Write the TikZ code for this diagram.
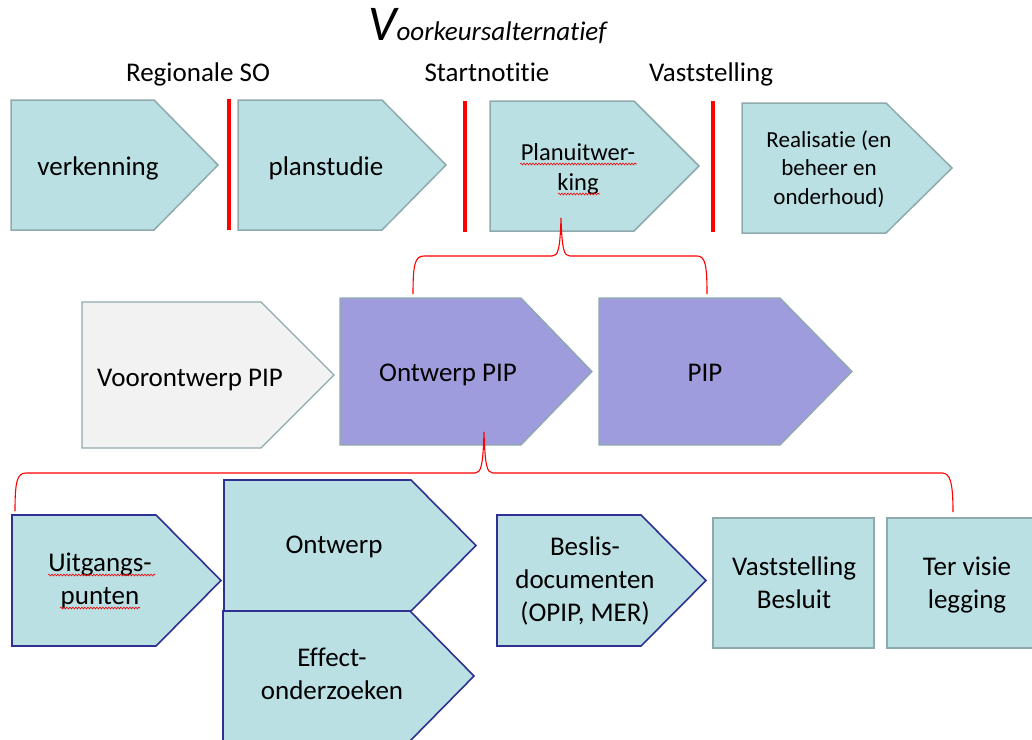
\documentclass[tikz,border=0pt]{standalone}
\usepackage{fontspec}
\setmainfont{Carlito}[Ligatures=NoCommon]
\usetikzlibrary{decorations.pathmorphing}
\definecolor{tealfill}{RGB}{187,224,227}
\definecolor{greyedge}{RGB}{143,170,172}
\definecolor{purplefill}{RGB}{158,156,220}
\definecolor{greyfill}{RGB}{242,242,242}
\definecolor{blueedge}{RGB}{46,49,146}
\newcommand\mychev[6]{\draw[#1] (#2,#3) -- (#4,#3) -- (#5,{(#3+#6)/2}) -- (#4,#6) -- (#2,#6) -- cycle;}
\begin{document}
\begin{tikzpicture}[x=1pt,y=-1pt,
  topbox/.style={fill=tealfill, draw=greyedge, line width=1.5pt},
  midgrey/.style={fill=greyfill, draw=greyedge, line width=1.3pt},
  midpurple/.style={fill=purplefill, draw=greyedge, line width=1.3pt},
  botbox/.style={fill=tealfill, draw=blueedge, line width=1.6pt},
  rectbox/.style={fill=tealfill, draw=greyedge, line width=1.8pt},
  redbar/.style={draw=red, line width=4pt},
  bracered/.style={draw=red, line width=1.1pt},
  lbl/.style={font=\fontsize{27}{33}\selectfont, inner sep=0pt, align=center, anchor=base},
  wavy/.style={draw=red, line width=0.6pt, decorate, decoration={snake, amplitude=0.9pt, segment length=3pt}}]
\clip (0,0) rectangle (1032,739);
\useasboundingbox (0,0) rectangle (1032,739);

% title and milestone labels
\node[inner sep=0pt, anchor=base west] (title) at (368,40)
  {\itshape\fontsize{50}{60}\selectfont V\fontsize{27}{33}\selectfont oorkeursalternatief};
\node[lbl] (rso) at (198,81) {Regionale SO};
\node[lbl] (sn) at (487,81) {Startnotitie};
\node[lbl] (vs) at (711,81) {Vaststelling};

% top row
\mychev{topbox}{11}{100}{154}{218}{230}
\mychev{topbox}{238}{100}{382}{446}{230}
\mychev{topbox}{490}{101}{634}{699}{231}
\mychev{topbox}{742}{103}{886}{952}{233}
\draw[redbar] (229,99) -- (229,230);
\draw[redbar] (465,101) -- (465,232);
\draw[redbar] (713,101) -- (713,232);

\node[lbl] (verk) at (98,175) {verkenning};
\node[lbl] (plan) at (326,175) {planstudie};
\node[lbl, font=\fontsize{24.5}{30}\selectfont] (puw) at (578,190) {Planuitwer-\\king};
\node[lbl, font=\fontsize{23}{28.5}\selectfont] (real) at (829,204) {Realisatie (en\\beheer en\\onderhoud)};

% middle row
\mychev{midgrey}{82}{302}{261}{334}{448}
\mychev{midpurple}{340}{298}{521}{592}{445}
\mychev{midpurple}{599}{298}{780}{852}{445}
\node[lbl] (vo) at (190,386) {Voorontwerp PIP};
\node[lbl] (opip) at (448,381) {Ontwerp PIP};
\node[lbl] (pip) at (705,381) {PIP};

% bottom row
\mychev{botbox}{12}{515}{156}{221}{646}
\mychev{botbox}{224}{480}{411}{476}{611}
\mychev{botbox}{223}{611}{410}{474}{741}
\mychev{botbox}{497}{515}{641}{706}{646}
\draw[rectbox] (713,518) rectangle (874,648);
\draw[rectbox] (887,518) rectangle (1048,648);

\node[lbl] (uitg) at (100,604) {Uitgangs-\\punten};
\node[lbl] (ontw) at (334,553) {Ontwerp};
\node[lbl] (eff) at (332,699) {Effect-\\onderzoeken};
\node[lbl] (besl) at (585,621) {Beslis-\\documenten\\(OPIP, MER)};
\node[lbl] (vast) at (794,608) {Vaststelling\\Besluit};
\node[lbl] (tvl) at (967,608) {Ter visie\\legging};

% spelling underlines
\draw[wavy] (520,164) -- (637,164);
\draw[wavy] (558,194) -- (600,194);
\draw[wavy] (48,575) -- (155,575);
\draw[wavy] (60,608) -- (140,608);

% braces
\coordinate (b1tip) at (561,218);
\coordinate (b1l) at (413,294);
\coordinate (b1r) at (707,294);
\draw[bracered] (b1l) .. controls (413,264) and (415,256) .. (424,256) -- (552,256)
  .. controls (558,256) and (560,250) .. (b1tip)
  .. controls (562,250) and (564,256) .. (570,256) -- (697,256)
  .. controls (705,256) and (707,264) .. (b1r);
\coordinate (b2tip) at (484,432);
\coordinate (b2l) at (15,511);
\coordinate (b2r) at (953,512);
\draw[bracered] (b2l) .. controls (15,482) and (17,473) .. (26,473) -- (475,473)
  .. controls (481,473) and (483,466) .. (b2tip)
  .. controls (485,466) and (487,473) .. (493,473) -- (942,473)
  .. controls (950,473) and (953,482) .. (b2r);
\end{tikzpicture}
\end{document}
